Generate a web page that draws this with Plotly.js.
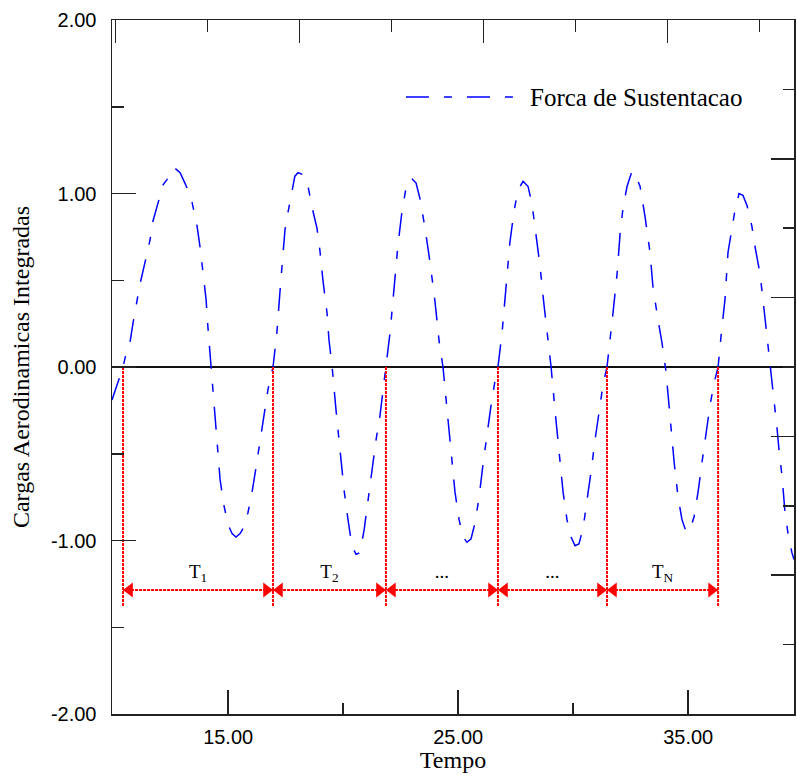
<!DOCTYPE html>
<html>
<head>
<meta charset="utf-8">
<script src="https://cdn.plot.ly/plotly-3.0.1.min.js"></script>
<style>html,body{margin:0;padding:0;background:#fff;}#chart{width:797px;height:777px;}</style>
</head>
<body>
<div id="chart"></div>
<script>
// Time samples (Tempo) and lift force (Forca de Sustentacao)
var tempo = [
  9.95,10.12,10.30,10.43,10.60,10.73,10.86,11.04,11.17,11.38,11.60,11.73,11.95,12.17,12.34,12.47,12.65,12.91,13.12,13.25,13.43,13.65,13.78,13.91,14.04,14.12,14.25,
  14.38,14.52,14.65,14.82,15.00,15.17,15.34,15.52,15.69,15.86,16.04,16.21,16.39,16.56,16.73,16.95,
  17.12,17.25,17.38,17.47,17.60,17.77,17.90,18.04,18.21,18.43,18.65,18.86,18.99,19.12,19.30,19.38,19.52,
  19.69,19.86,20.04,20.21,20.38,20.56,20.73,20.91,21.08,21.25,21.43,21.60,21.73,21.86,
  22.04,22.21,22.38,22.56,22.73,22.95,23.17,23.34,23.56,23.78,23.99,24.17,24.34,
  24.52,24.69,24.86,25.04,25.21,25.38,25.56,25.73,25.91,26.08,26.25,26.43,26.60,26.73,
  26.91,27.08,27.25,27.43,27.60,27.82,28.04,28.21,28.38,28.56,28.73,28.91,29.04,
  29.21,29.38,29.56,29.73,29.91,30.08,30.25,30.43,30.60,30.78,30.95,31.12,31.30,31.47,
  31.56,31.73,31.91,32.04,32.17,32.34,32.56,32.73,32.91,33.12,33.34,33.47,33.69,33.86,34.03,
  34.21,34.39,34.56,34.73,34.91,35.08,35.26,35.43,35.60,35.78,35.95,36.13,36.30,
  36.43,36.60,36.73,36.90,37.03,37.21,37.38,37.56,37.77,37.91,38.12,38.25,38.47,38.60,
  38.69,38.86,38.95,39.08,39.21,39.34,39.51,39.60
];
var forca = [
  -0.19,-0.12,-0.05,0.00,0.10,0.14,0.25,0.38,0.48,0.60,0.73,0.84,0.95,1.05,1.08,1.12,1.15,1.12,1.06,1.02,0.95,0.81,0.69,0.54,0.39,0.23,0.00,
  -0.22,-0.45,-0.65,-0.80,-0.91,-0.96,-0.98,-0.96,-0.92,-0.84,-0.72,-0.58,-0.42,-0.26,-0.13,0.00,
  0.20,0.43,0.66,0.79,0.89,1.02,1.10,1.12,1.11,1.07,0.92,0.80,0.67,0.50,0.31,0.16,0.00,
  -0.25,-0.48,-0.71,-0.88,-1.03,-1.08,-1.07,-0.94,-0.77,-0.59,-0.42,-0.28,-0.13,0.00,
  0.20,0.45,0.70,0.90,1.03,1.09,1.06,0.97,0.80,0.60,0.38,0.15,0.00,
  -0.25,-0.50,-0.72,-0.88,-0.98,-1.01,-0.99,-0.90,-0.75,-0.56,-0.38,-0.22,-0.08,0.00,
  0.20,0.48,0.72,0.90,1.02,1.07,1.04,0.94,0.78,0.58,0.36,0.15,0.00,
  -0.25,-0.50,-0.72,-0.88,-0.98,-1.03,-1.02,-0.93,-0.78,-0.60,-0.42,-0.25,-0.10,0.00,
  0.10,0.31,0.54,0.77,0.92,1.04,1.13,1.10,1.04,0.87,0.66,0.46,0.27,0.14,-0.02,
  -0.30,-0.55,-0.75,-0.88,-0.95,-0.94,-0.86,-0.72,-0.55,-0.38,-0.22,-0.09,0.00,
  0.18,0.39,0.66,0.81,0.90,1.00,0.99,0.93,0.81,0.69,0.54,0.39,0.12,0.00,
  -0.15,-0.35,-0.48,-0.63,-0.84,-0.96,-1.07,-1.11
];
// Period markers: upward zero crossings
var cruzamentos = [10.43, 16.95, 21.86, 26.73, 31.47, 36.30];
var periodoRotulos = ['T<sub>1</sub>', 'T<sub>2</sub>', '...', '...', 'T<sub>N</sub>'];
var nivelBaixo = -1.383;
var nivelSeta = -1.285;
var nivelRotulo = -1.19;

var xTicks = [15, 25, 35];
var xTickText = ['15.00', '25.00', '35.00'];
var yTicks = [-2, -1, 0, 1, 2];
var yTickText = ['-2.00', '-1.00', '0.00', '1.00', '2.00'];
var xRange = [9.95, 39.6];
var yRange = [-2, 2];

// arrowhead marker size (px) and its half-length expressed on the x scale (23 px per unit)
var headSize = 13;
var headOffset = (headSize / 2) / 23;

var vx = [], vy = [];
cruzamentos.forEach(function (c) { vx.push(c, c, null); vy.push(0, nivelBaixo, null); });

var leftX = [], rightX = [], headY = [];
var labelX = [];
for (var i = 0; i < cruzamentos.length - 1; i++) {
  var a = cruzamentos[i], b = cruzamentos[i + 1];
  leftX.push(a + headOffset);
  rightX.push(b - headOffset);
  headY.push(nivelSeta);
  labelX.push((a + b) / 2);
}

var traces = [
  {
    x: tempo, y: forca, type: 'scatter', mode: 'lines', name: 'Forca de Sustentacao',
    line: { color: '#0000ff', width: 1.5, dash: '23px,15px,8px,15px' },
    showlegend: false, hoverinfo: 'x+y'
  },
  {
    x: vx, y: vy, type: 'scatter', mode: 'lines',
    line: { color: '#ff0000', width: 2, dash: '3px,1px' },
    showlegend: false, hoverinfo: 'skip'
  },
  {
    x: [cruzamentos[0], cruzamentos[cruzamentos.length - 1]], y: [nivelSeta, nivelSeta],
    type: 'scatter', mode: 'lines',
    line: { color: '#ff0000', width: 2, dash: '3px,1px' },
    showlegend: false, hoverinfo: 'skip'
  },
  {
    x: leftX, y: headY, type: 'scatter', mode: 'markers',
    marker: { symbol: 'triangle-left', size: headSize, color: '#ff0000', line: { width: 0 } },
    showlegend: false, hoverinfo: 'skip'
  },
  {
    x: rightX, y: headY, type: 'scatter', mode: 'markers',
    marker: { symbol: 'triangle-right', size: headSize, color: '#ff0000', line: { width: 0 } },
    showlegend: false, hoverinfo: 'skip'
  },
  {
    x: labelX, y: headY.map(function () { return nivelRotulo; }), type: 'scatter', mode: 'text',
    text: periodoRotulos, textposition: 'middle center',
    textfont: { family: 'Liberation Serif, Times New Roman, serif', size: 19, color: '#000' },
    showlegend: false, hoverinfo: 'skip'
  },
  { x: [], y: [], xaxis: 'x2', yaxis: 'y2', type: 'scatter', showlegend: false, hoverinfo: 'skip' }
];

var layout = {
  width: 797, height: 777,
  margin: { l: 112, r: 3, t: 20, b: 63, pad: 0 },
  paper_bgcolor: '#fff', plot_bgcolor: '#fff',
  showlegend: false,
  xaxis: {
    range: xRange, tickmode: 'array', tickvals: xTicks, ticktext: xTickText,
    ticks: 'inside', ticklen: 24, tickwidth: 1.5, tickcolor: '#222',
    minor: { tickmode: 'array', tickvals: [20, 30], ticks: 'inside', ticklen: 11, tickwidth: 1.5, tickcolor: '#222' },
    showline: true, linecolor: '#222', linewidth: 1.5, showgrid: false, zeroline: false,
    tickfont: { family: 'Liberation Sans, Arial, sans-serif', size: 20, color: '#000' },
    ticklabelstandoff: 4,
    title: { text: 'Tempo', standoff: 2, font: { family: 'Liberation Serif, Times New Roman, serif', size: 24, color: '#000' } }
  },
  yaxis: {
    range: yRange, tickmode: 'array', tickvals: yTicks, ticktext: yTickText,
    ticks: 'inside', ticklen: 24, tickwidth: 1.5, tickcolor: '#222',
    minor: { tickmode: 'array', tickvals: [-1.5, -0.5, 0.5, 1.5], ticks: 'inside', ticklen: 12, tickwidth: 1.5, tickcolor: '#222' },
    showline: true, linecolor: '#222', linewidth: 1.5, showgrid: false,
    zeroline: true, zerolinecolor: '#111', zerolinewidth: 1.5,
    tickfont: { family: 'Liberation Sans, Arial, sans-serif', size: 20, color: '#000' },
    ticklabelstandoff: 10,
    title: { text: 'Cargas Aerodinamicas Integradas', standoff: 14, font: { family: 'Liberation Serif, Times New Roman, serif', size: 24, color: '#000' } }
  },
  xaxis2: {
    overlaying: 'x', side: 'top', anchor: 'y2', range: xRange,
    tickmode: 'linear', tick0: 10.1, dtick: 8, ticks: 'inside', ticklen: 23, tickwidth: 1.5, tickcolor: '#222',
    minor: { tick0: 10.1, dtick: 4, ticks: 'inside', ticklen: 12, tickwidth: 1.5, tickcolor: '#222' },
    showticklabels: false, showline: true, linecolor: '#222', linewidth: 1.5, showgrid: false, zeroline: false
  },
  yaxis2: {
    overlaying: 'y', side: 'right', anchor: 'x2', range: yRange,
    tickmode: 'linear', tick0: 0.4, dtick: 0.8, ticks: 'inside', ticklen: 23, tickwidth: 1.5, tickcolor: '#222',
    minor: { tick0: 0, dtick: 0.4, ticks: 'inside', ticklen: 11, tickwidth: 1.5, tickcolor: '#222' },
    showticklabels: false, showline: true, linecolor: '#222', linewidth: 1.5, showgrid: false, zeroline: false
  },
  shapes: [
    { type: 'line', xref: 'paper', yref: 'paper', x0: 0.431, x1: 0.591, y0: 0.889, y1: 0.889,
      line: { color: '#0000ff', width: 1.5, dash: '23px,15px,8px,15px' } }
  ],
  annotations: [
    { x: 0.61, y: 0.889, xref: 'paper', yref: 'paper', xanchor: 'left', yanchor: 'middle',
      text: 'Forca de Sustentacao', showarrow: false,
      font: { family: 'Liberation Serif, Times New Roman, serif', size: 25, color: '#000' } }
  ]
};

Plotly.newPlot('chart', traces, layout, { displayModeBar: false, staticPlot: true });
</script>
</body>
</html>
